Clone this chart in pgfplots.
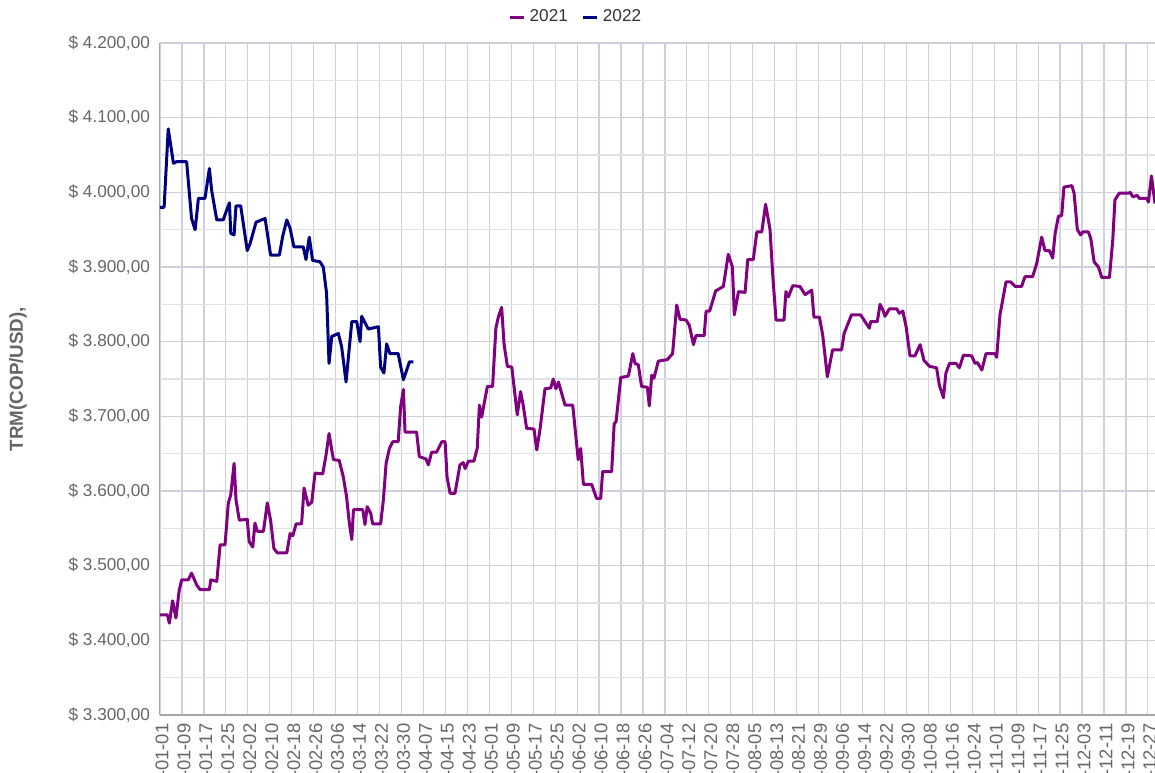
\documentclass[border=0pt]{standalone}
\usepackage{fontspec}
\setmainfont{Liberation Sans}
\usepackage{pgfplots}
\pgfplotsset{compat=1.18}
\definecolor{c2021}{RGB}{128,0,128}
\definecolor{c2022}{RGB}{0,0,128}
\definecolor{gridc}{RGB}{224,226,234}
\definecolor{gridmaj}{RGB}{206,209,220}
\definecolor{txt}{RGB}{102,102,102}
\definecolor{axc}{RGB}{165,165,165}
\begin{document}
\begin{tikzpicture}
\path[use as bounding box] (-80pt,-28.5pt) rectangle (497.5pt,357.5pt);
\begin{axis}[
  at={(0pt,0pt)}, anchor=south west,
  scale only axis,
  width=497.5pt, height=336pt,
  xmin=0, xmax=362.6, ymin=3300, ymax=4200,
  axis lines=left,
  axis line style={-},
  x axis line style={draw=axc, line width=1pt},
  y axis line style={draw=axc, line width=0.5pt},
  xtick={0,8,...,360},
  xticklabels={2021-01-01,2021-01-09,2021-01-17,2021-01-25,2021-02-02,2021-02-10,2021-02-18,2021-02-26,2021-03-06,2021-03-14,2021-03-22,2021-03-30,2021-04-07,2021-04-15,2021-04-23,2021-05-01,2021-05-09,2021-05-17,2021-05-25,2021-06-02,2021-06-10,2021-06-18,2021-06-26,2021-07-04,2021-07-12,2021-07-20,2021-07-28,2021-08-05,2021-08-13,2021-08-21,2021-08-29,2021-09-06,2021-09-14,2021-09-22,2021-09-30,2021-10-08,2021-10-16,2021-10-24,2021-11-01,2021-11-09,2021-11-17,2021-11-25,2021-12-03,2021-12-11,2021-12-19,2021-12-27},
  ytick={3300,3400,...,4200},
  yticklabels={{\$ 3.300,00},{\$ 3.400,00},{\$ 3.500,00},{\$ 3.600,00},{\$ 3.700,00},{\$ 3.800,00},{\$ 3.900,00},{\$ 4.000,00},{\$ 4.100,00},{\$ 4.200,00}},
  minor ytick={3350,3450,...,4150},
  grid=both,
  major grid style={draw=gridmaj, line width=0.6pt},
  minor grid style={draw=gridc, line width=0.6pt},
  major tick length=0pt, minor tick length=0pt,
  tick label style={font=\fontsize{8.6}{10}\selectfont, text=txt},
  xticklabel style={rotate=90, anchor=east, xshift=-2.6pt, yshift=-1pt, inner sep=1.5pt, font=\fontsize{9.2}{10}\selectfont},
  yticklabel style={xshift=-1.5pt},
  ylabel={TRM(COP/USD),},
  ylabel style={font=\bfseries\fontsize{9.4}{11}\selectfont, text=txt, at={(axis description cs:-0.1427,0.5)}, anchor=center},
  legend style={at={(axis description cs:0.419,1.0387)}, anchor=center, draw=none, fill=none, font=\fontsize{8.6}{10}\selectfont, text={rgb,255:red,51;green,51;blue,51}, /tikz/every even column/.append style={column sep=5pt}},
  legend columns=2,
  legend image code/.code={\draw[#1, line width=1.5pt] (0pt,0pt) -- (7pt,0pt);},
]
\addplot[c2021, line width=1.5pt, line join=round] coordinates {
(0,3434) (2.7,3434) (3.4,3423) (4.6,3453) (5.8,3430) (7,3467) (7.9,3481) (10.3,3481) (11.5,3490) (13.4,3474) (14.6,3468) (18,3468) (18.5,3481) (20.7,3479) (21.9,3528) (23.7,3528) (24.9,3584) (25.8,3595) (27,3637) (27.7,3588) (28.9,3561) (31.8,3562) (32.5,3532) (33.8,3525) (34.6,3557) (35.5,3546) (37.7,3546) (39.1,3584) (40.3,3561) (41.5,3523) (42.8,3517) (46.2,3517) (47.4,3543) (48.4,3540) (49.6,3556) (51.6,3556) (52.5,3604) (54,3581) (55.3,3585) (56.5,3624) (59.3,3623) (60.5,3648) (61.6,3677) (63.2,3642) (65.3,3641) (66.8,3619) (68,3592) (69,3557) (69.9,3535) (70.5,3575) (73.9,3575) (74.7,3555) (75.5,3579) (76.8,3570) (77.5,3556) (80.4,3556) (81.4,3588) (82.4,3637) (83.6,3657) (84.8,3666) (86.8,3666) (87.7,3713) (88.7,3736) (89.3,3679) (93.5,3679) (94.5,3646) (96.9,3643) (97.8,3635) (99,3652) (100.8,3652) (102.7,3666) (103.9,3666) (104.6,3619) (105.7,3597) (107.5,3597) (109.3,3635) (110.5,3638) (111.2,3630) (112.4,3640) (114.4,3640) (115.6,3657) (116.4,3715) (117.2,3699) (119.3,3740) (121.2,3740) (122.4,3818) (123.3,3833) (124.5,3846) (125.4,3796) (126.6,3767) (128.2,3766) (130.2,3702) (131.4,3733) (132.4,3714) (133.6,3684) (136.3,3683) (137.3,3655) (138.5,3683) (140.3,3737) (142.4,3738) (143.3,3750) (144.3,3737) (145.2,3746) (147.6,3715) (150.4,3715) (151.2,3686) (152.4,3642) (153.3,3657) (154.3,3609) (157.3,3609) (159.1,3590) (160.6,3590) (161.3,3626) (164.6,3626) (165.5,3690) (166.2,3693) (167.9,3752) (170.7,3754) (172.3,3784) (173.1,3771) (174.3,3769) (175.5,3740) (177.6,3739) (178.3,3714) (179.2,3755) (180,3751) (181.6,3774) (184.9,3776) (186.8,3784) (188.3,3849) (189.5,3830) (191.7,3829) (192.9,3822) (194.4,3796) (195.3,3808) (198.3,3808) (199,3841) (200.3,3841) (202.5,3868) (205.3,3874) (207.1,3917) (208.6,3900) (209.3,3836) (210.8,3867) (213.2,3866) (214.2,3910) (216.2,3910) (217.5,3947) (219.3,3947) (220.7,3984) (222.3,3950) (223.3,3889) (224.5,3829) (227.4,3829) (228.1,3867) (229,3860) (230.6,3875) (233.2,3874) (235.1,3863) (237.5,3869) (238.3,3833) (240.3,3833) (241.5,3809) (243.2,3753) (245.1,3789) (248.4,3789) (249.3,3811) (252,3836) (255.3,3836) (258.5,3818) (259,3827) (261.4,3827) (262.4,3850) (263.6,3841) (264.2,3834) (265.8,3844) (268.5,3844) (269.4,3838) (270.7,3841) (271.9,3820) (273.3,3781) (275.1,3781) (277,3796) (278.4,3775) (280.4,3767) (283,3765) (284,3742) (285.5,3725) (286.4,3758) (287.7,3771) (290.1,3771) (291.3,3765) (292.8,3782) (295.8,3781) (297,3771) (297.9,3772) (299.5,3762) (301,3784) (304.3,3784) (304.9,3779) (306.1,3836) (308.3,3880) (310,3880) (311.6,3874) (314,3874) (315.2,3887) (318,3887) (319.5,3905) (321.3,3940) (322.5,3922) (324.1,3922) (325.3,3912) (326.2,3945) (327.4,3968) (328.6,3969) (329.4,4007) (332.3,4009) (333.1,3999) (334.3,3950) (335.5,3943) (336.3,3947) (338.3,3947) (339.2,3938) (340.4,3907) (342,3900) (343.2,3886) (346,3886) (347.2,3936) (348,3990) (349.6,3999) (353,3999) (353.6,4000) (354.5,3994) (356,3996) (356.9,3992) (359.6,3992) (360.2,3987) (361.3,4022) (362.6,3985)
};
\addlegendentry{2021}
\addplot[c2022, line width=1.5pt, line join=round] coordinates {
(0,3980) (1.5,3980) (3,4085) (4.9,4039) (6,4041) (9.7,4041) (11.5,3965) (12.8,3950) (14,3992) (16.4,3992) (18,4032) (18.8,4003) (20.7,3963) (23,3963) (25.3,3986) (25.8,3945) (27,3943) (27.7,3982) (29.4,3982) (31.8,3922) (32.8,3931) (35,3960) (38.3,3965) (40.3,3916) (43.5,3916) (44.7,3941) (46.2,3963) (47.4,3952) (48.8,3927) (52.2,3927) (53.2,3910) (54.4,3940) (55.6,3909) (58.3,3907) (59.5,3900) (60.7,3865) (61.6,3771) (62.6,3807) (65,3811) (66.2,3793) (67.8,3746) (69.9,3827) (71.7,3827) (72.9,3800) (73.5,3834) (75.9,3817) (79.6,3820) (80.4,3766) (81.6,3758) (82.6,3797) (83.8,3784) (86.8,3784) (88.7,3749) (90.9,3773) (92.3,3773)
};
\addlegendentry{2022}
\end{axis}
\end{tikzpicture}
\end{document}
